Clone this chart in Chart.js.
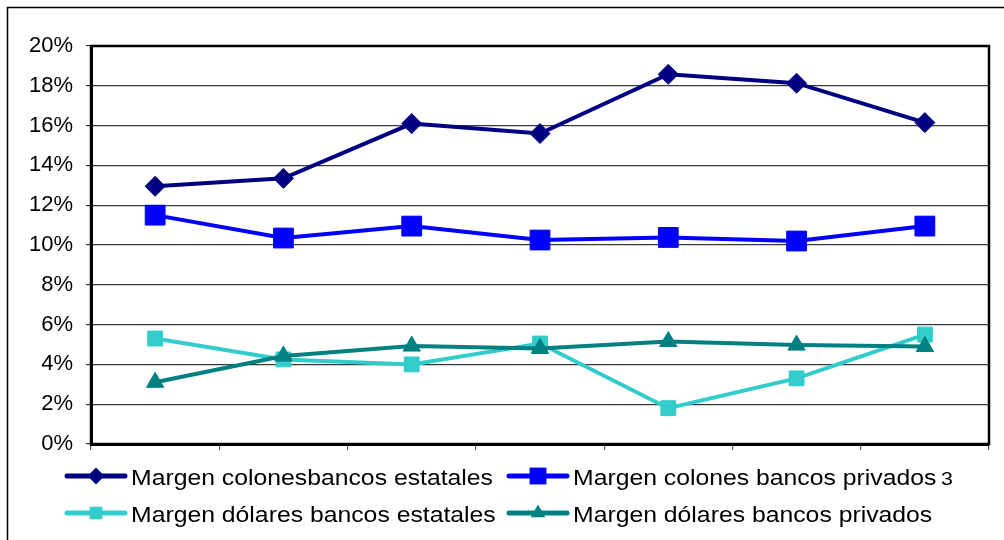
<!DOCTYPE html>
<html>
<head>
<meta charset="utf-8">
<title>Margen de intermediación</title>
<script src="https://cdn.jsdelivr.net/npm/chart.js@4/dist/chart.umd.min.js"></script>
<style>
  html, body { margin: 0; padding: 0; background: #ffffff; }
  canvas { display: block; }
</style>
</head>
<body>
<canvas id="grafico" width="1004" height="540"></canvas>
<script>
// Periodos (eje X sin rótulos)
const periodos = ['1', '2', '3', '4', '5', '6', '7'];

// Márgenes en porcentaje
const coloresEstatales = [12.95, 13.35, 16.1, 15.6, 18.58, 18.13, 16.15];
const colonesPrivados = [11.5, 10.35, 10.95, 10.25, 10.38, 10.2, 10.95];
const dolaresEstatales = [5.3, 4.25, 4.0, 5.05, 1.8, 3.3, 5.5];
const dolaresPrivados = [3.1, 4.42, 4.92, 4.8, 5.15, 4.97, 4.9];

const nombresSeries = [
  'Margen colonesbancos estatales',
  'Margen colones bancos privados',
  'Margen dólares bancos estatales',
  'Margen dólares bancos privados'
];
// Llamada de nota junto a la segunda serie
const notas = ['', '3', '', ''];

// Marcas del eje Y
const ticksY = [0, 2, 4, 6, 8, 10, 12, 14, 16, 18, 20];

const FUENTE = '"Liberation Sans", Arial, sans-serif';

function serie(label, data, color, estilo, radio, orden) {
  return {
    label: label,
    data: data,
    borderColor: color,
    backgroundColor: color,
    borderWidth: 4,
    pointStyle: estilo,
    pointRadius: radio,
    pointHoverRadius: radio,
    pointBorderWidth: 1,
    pointBackgroundColor: color,
    pointBorderColor: color,
    tension: 0,
    order: orden
  };
}

// Dibuja el símbolo de la leyenda
function simbolo(ctx, estilo, x, y, r, color) {
  ctx.save();
  ctx.fillStyle = color;
  ctx.beginPath();
  if (estilo === 'rectRot') {
    ctx.moveTo(x - r, y);
    ctx.lineTo(x, y - r);
    ctx.lineTo(x + r, y);
    ctx.lineTo(x, y + r);
  } else if (estilo === 'rect') {
    const s = r * Math.SQRT1_2;
    ctx.rect(x - s, y - s, 2 * s, 2 * s);
  } else if (estilo === 'triangle') {
    ctx.moveTo(x, y - r);
    ctx.lineTo(x + r * Math.sin(2 * Math.PI / 3), y + r / 2);
    ctx.lineTo(x - r * Math.sin(2 * Math.PI / 3), y + r / 2);
  }
  ctx.closePath();
  ctx.fill();
  ctx.restore();
}

// Marco exterior, borde del área de trazado y leyenda en dos columnas
const decoracion = {
  id: 'decoracion',
  afterDraw(chart) {
    const ctx = chart.ctx;
    const a = chart.chartArea;
    ctx.save();

    ctx.strokeStyle = '#000000';
    ctx.lineWidth = 1.5;
    ctx.beginPath();
    ctx.moveTo(7.5, 540);
    ctx.lineTo(7.5, 7.5);
    ctx.lineTo(1004, 7.5);
    ctx.stroke();

    ctx.lineWidth = 2.5;
    ctx.strokeRect(a.left, a.top, a.right - a.left, a.bottom - a.top);

    const colX = [67, 509];
    const filaY = [476, 513];
    const textoX = [131, 573];
    ctx.font = '22px ' + FUENTE;
    const ancho0 = ctx.measureText(nombresSeries[0]).width;
    const sx = 362 / ancho0;

    chart.data.datasets.forEach((ds, i) => {
      const col = i % 2, fila = Math.floor(i / 2);
      const x0 = colX[col], y = filaY[fila];
      ctx.strokeStyle = ds.borderColor;
      ctx.lineWidth = 5;
      ctx.lineCap = 'round';
      ctx.beginPath();
      ctx.moveTo(x0, y);
      ctx.lineTo(x0 + 58, y);
      ctx.stroke();
      simbolo(ctx, ds.pointStyle, x0 + 29, y, ds.pointRadius * 0.85, ds.borderColor);

      ctx.save();
      ctx.fillStyle = '#000000';
      ctx.textBaseline = 'alphabetic';
      ctx.textAlign = 'left';
      ctx.translate(textoX[col], y + 9);
      ctx.scale(sx, 1);
      ctx.font = '22px ' + FUENTE;
      ctx.fillText(ds.label, 0, 0);
      if (notas[i]) {
        const w = ctx.measureText(ds.label + ' ').width;
        ctx.font = '19px ' + FUENTE;
        ctx.fillText(notas[i], w - 2, 0);
      }
      ctx.restore();
    });

    ctx.restore();
  }
};

new Chart(document.getElementById('grafico'), {
  type: 'line',
  data: {
    labels: periodos,
    datasets: [
      serie(nombresSeries[0], coloresEstatales, '#000080', 'rectRot', 10, 3),
      serie(nombresSeries[1], colonesPrivados, '#0000FF', 'rect', 14, 2),
      serie(nombresSeries[2], dolaresEstatales, '#33CCCC', 'rect', 10.5, 1),
      serie(nombresSeries[3], dolaresPrivados, '#008080', 'triangle', 10, 0)
    ]
  },
  options: {
    responsive: false,
    devicePixelRatio: 1,
    animation: false,
    events: [],
    layout: { padding: { top: 46, right: 11, bottom: 86, left: 0 } },
    plugins: {
      legend: { display: false },
      tooltip: { enabled: false },
      title: { display: false }
    },
    scales: {
      x: {
        type: 'category',
        offset: true,
        afterFit(s) { s.height = 10; },
        grid: {
          offset: true,
          drawOnChartArea: false,
          drawTicks: true,
          tickLength: 6,
          color: '#555555',
          lineWidth: 1.2
        },
        border: { display: true, color: '#000000', width: 3 },
        ticks: { display: false }
      },
      y: {
        min: 0,
        max: 20,
        afterFit(s) { s.width = 91; },
        afterBuildTicks(s) { s.ticks = ticksY.map(v => ({ value: v })); },
        grid: {
          color: '#3a3a3a',
          lineWidth: 1.2,
          drawTicks: true,
          tickLength: 5
        },
        border: { display: true, color: '#000000', width: 3 },
        ticks: {
          padding: 13,
          color: '#000000',
          font: { family: FUENTE, size: 22 },
          callback: v => v + '%'
        }
      }
    }
  },
  plugins: [decoracion]
});
</script>
</body>
</html>
